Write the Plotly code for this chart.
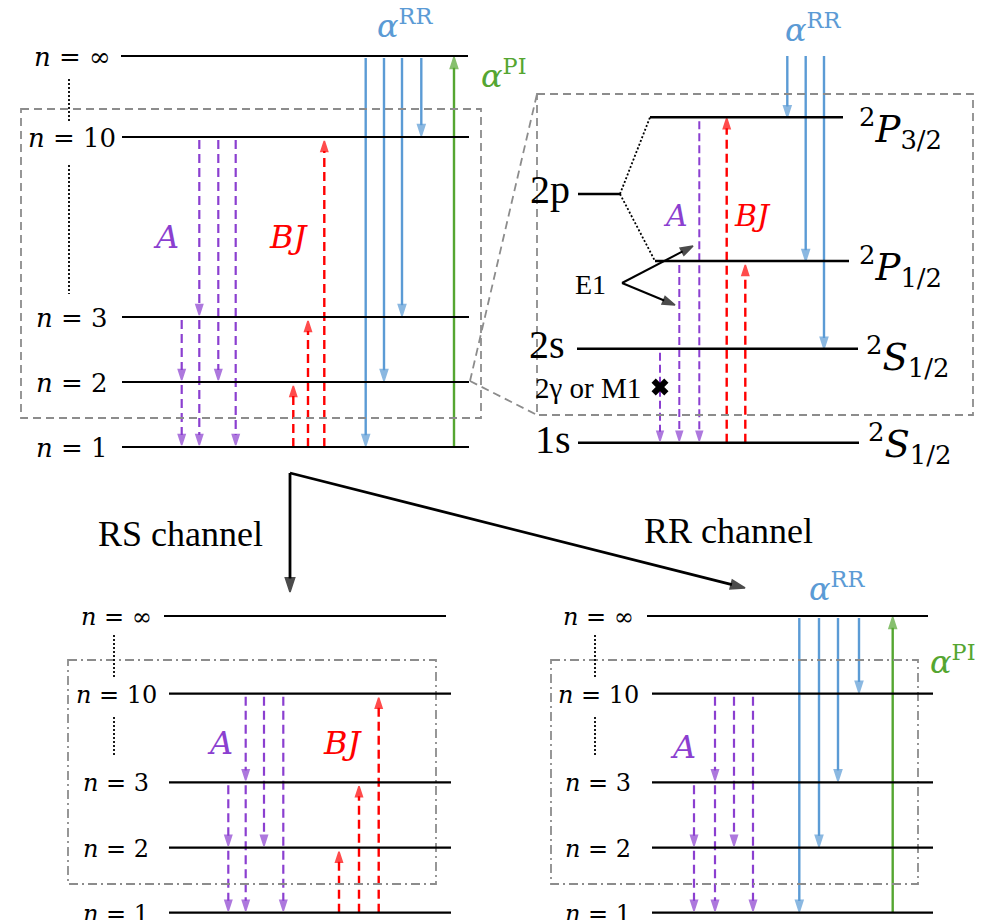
import plotly.graph_objects as go

# ------------------------------------------------------------------
# DATA (levels and transitions of the diagram)
# ------------------------------------------------------------------
N_LEVELS = ["∞", "10", "3", "2", "1"]
A_CASCADES = [["3", "2", "1"], ["10", "3", "1"], ["10", "2"], ["10", "1"]]   # cascades (A)
BJ_EXCITATIONS = [["1", "2"], ["1", "3"], ["1", "10"]]                       # BJ excitation
RR_CAPTURES = [["∞", "1"], ["∞", "2"], ["∞", "3"], ["∞", "10"]]              # radiative recombination
PI_IONIZATIONS = [["1", "∞"]]                                                # photo-ionization

FS_LEVELS = ["top", "P32", "2p", "P12", "2s", "1s"]
FS_LEFT_LABELS = {"2p": "2p", "2s": "2s", "1s": "1s"}
FS_RIGHT_LABELS = {"P32": "<sup>2</sup><i>P</i><sub>3/2</sub>", "P12": "<sup>2</sup><i>P</i><sub>1/2</sub>",
                   "2s": "<sup>2</sup><i>S</i><sub>1/2</sub>", "1s": "<sup>2</sup><i>S</i><sub>1/2</sub>"}
FS_A = [["2s", "1s"], ["P12", "1s"], ["P32", "1s"]]
FS_BJ = [["1s", "P32"], ["1s", "P12"]]
FS_RR = [["top", "P32"], ["top", "P12"], ["top", "2s"]]

CHANNELS = ["RS channel", "RR channel"]

# ------------------------------------------------------------------
# GEOMETRY / STYLE (pixel-like coordinate system of the canvas)
# ------------------------------------------------------------------
W, H = 985, 920
PURPLE, RED, BLUE, GREEN, GRAY = "#8B3FD0", "#FF0000", "#5B9BD5", "#55A631", "#8C8C8C"
MATH = "DejaVu Serif"
TEXT = "Liberation Serif"

TL = dict(y={"∞": 56, "10": 137, "3": 317, "2": 382, "1": 447},
          x0=122, x1=469, inf_shift=-1, label_x=72, label_size=26,
          a_x=[181.7, 199.3, 218.3, 235.7], bj_x=[293.3, 308, 324.3],
          rr_x=[365.7, 384, 402, 421.3], pi_x=[454],
          dots=[(69, 79, 122), (69, 165, 294)], box=(21, 109, 481, 418), box_dash="8px,5px")
BL = dict(y={"∞": 616, "10": 693.7, "3": 782.3, "2": 847.7, "1": 912.7},
          x0=169, x1=451, inf_shift=-5, label_x=116, label_size=24,
          a_x=[228.3, 245.7, 264, 283.3], bj_x=[339, 359, 378.7],
          rr_x=[], pi_x=[],
          dots=[(114, 635, 678), (114, 717, 757)], box=(68, 660, 436, 884), box_dash="9px,4px,2px,4px")
BR = dict(y={"∞": 616, "10": 693.7, "3": 782.3, "2": 847.7, "1": 912.7},
          x0=652, x1=933, inf_shift=-5, label_x=598, label_size=24,
          a_x=[694, 715, 734, 753], bj_x=[],
          rr_x=[799.3, 819, 838, 859], pi_x=[892.7],
          dots=[(595, 635, 678), (595, 717, 757)], box=(551, 660, 918, 884), box_dash="9px,4px,2px,4px")

FS = dict(y={"top": 56, "P32": 117.3, "2p": 194, "P12": 261, "2s": 348.7, "1s": 442.7},
          xs={"P32": (650, 843), "2p": (578, 620), "P12": (655, 849), "2s": (577, 858), "1s": (578, 859)},
          a_x=[660, 679.3, 699.3], bj_x=[726.7, 745.3], rr_x=[787.3, 805.7, 824])

fig = go.Figure()


def hline(x0, x1, y, color="black", width=2.2, dash="solid"):
    fig.add_shape(type="line", x0=x0, x1=x1, y0=y, y1=y, xref="x", yref="y",
                  line=dict(color=color, width=width, dash=dash))


def seg(x0, y0, x1, y1, color="black", width=1.6, dash="solid"):
    fig.add_shape(type="line", x0=x0, x1=x1, y0=y0, y1=y1, xref="x", yref="y",
                  line=dict(color=color, width=width, dash=dash))


def rect(box, dash, color=GRAY, width=1.8):
    x0, y0, x1, y1 = box
    fig.add_shape(type="rect", x0=x0, x1=x1, y0=y0, y1=y1, xref="x", yref="y",
                  line=dict(color=color, width=width, dash=dash), fillcolor="rgba(0,0,0,0)")


def arrow(x0, y0, x1, y1, color, width=2.2, dash="solid", head=11, edge=1.6):
    fig.add_trace(go.Scatter(
        x=[x0, x1], y=[y0, y1], mode="lines+markers",
        line=dict(color=color, width=width, dash=dash),
        marker=dict(symbol="arrow", size=[0, head], angleref="previous", color=color,
                    line=dict(width=edge, color=color)),
        hoverinfo="skip", showlegend=False))


def text(x, y, s, size, color="black", family=TEXT, xanchor="center", yanchor="middle"):
    fig.add_annotation(x=x, y=y, text=s, showarrow=False, xref="x", yref="y",
                       font=dict(size=size, color=color, family=family),
                       xanchor=xanchor, yanchor=yanchor)


def down(xs, ys, yt, color, dash, width=2.2, head=11, start_gap=3, end_gap=2):
    arrow(xs, ys + start_gap, xs, yt - end_gap, color, width, dash, head)


def up(xs, ys, yt, color, dash, width=2.2, head=11, end_gap=4):
    arrow(xs, ys, xs, yt + end_gap, color, width, dash, head)


def n_panel(P):
    rect(P["box"], P["box_dash"])
    for (dx, y0, y1) in P["dots"]:
        seg(dx, y0, dx, y1, "black", 1.8, "2px,2px")
    for lev in N_LEVELS:
        shift = P["inf_shift"] if lev == "∞" else 0
        hline(P["x0"] + shift, P["x1"] + shift, P["y"][lev])
        text(P["label_x"], P["y"][lev] + 1, "<i>n</i> = " + lev, P["label_size"], family=MATH)
    for x, col in zip(P["a_x"], A_CASCADES):
        for s, t in zip(col[:-1], col[1:]):
            down(x, P["y"][s], P["y"][t], PURPLE, "9px,5px", 2.2, 11)
    for x, (s, t) in zip(P["bj_x"], BJ_EXCITATIONS):
        up(x, P["y"][s], P["y"][t], RED, "9px,5px", 2.4, 11, 4)
    for x, (s, t) in zip(P["rr_x"], RR_CAPTURES):
        down(x, P["y"][s], P["y"][t], BLUE, "solid", 2.4, 12, 2, 1)
    for x, (s, t) in zip(P["pi_x"], PI_IONIZATIONS):
        up(x, P["y"][s], P["y"][t], GREEN, "solid", 2.4, 12, 1)


n_panel(TL)
n_panel(BL)
n_panel(BR)

# panel text labels
text(166, 237, "<i>A</i>", 32, PURPLE, MATH)
text(289, 237, "<i>BJ</i>", 32, RED, MATH)
text(405, 24, "<i>α</i><sup>RR</sup>", 32, BLUE, MATH)
text(504, 74, "<i>α</i><sup>PI</sup>", 32, GREEN, MATH)

text(220, 743, "<i>A</i>", 32, PURPLE, MATH)
text(343, 743, "<i>BJ</i>", 32, RED, MATH)

text(683, 747, "<i>A</i>", 32, PURPLE, MATH)
text(837, 587, "<i>α</i><sup>RR</sup>", 32, BLUE, MATH)
text(953, 660, "<i>α</i><sup>PI</sup>", 32, GREEN, MATH)

# ------------------------------------------------------------------
# fine-structure zoom panel (top right)
# ------------------------------------------------------------------
rect((537, 94, 973, 415), "8px,5px")
seg(470, 381, 537, 94, GRAY, 1.8, "8px,5px")
seg(470, 381, 537, 415, GRAY, 1.8, "8px,5px")

for lev in FS_LEVELS[1:]:
    x0, x1 = FS["xs"][lev]
    hline(x0, x1, FS["y"][lev], width=2.6)
seg(620, FS["y"]["2p"], 650, FS["y"]["P32"], "black", 1.8, "2px,2px")
seg(620, FS["y"]["2p"], 655, FS["y"]["P12"], "black", 1.8, "2px,2px")

left_pos = {"2p": (550, 189), "2s": (547, 344), "1s": (553, 439)}
for lev, lab in FS_LEFT_LABELS.items():
    text(left_pos[lev][0], left_pos[lev][1], lab, 40)
right_pos = {"P32": (900, 128), "P12": (900, 266), "2s": (908, 356), "1s": (910, 443)}
for lev, lab in FS_RIGHT_LABELS.items():
    text(right_pos[lev][0], right_pos[lev][1], lab, 37, family=MATH)

for x, (s, t) in zip(FS["a_x"], FS_A):
    down(x, FS["y"][s], FS["y"][t], PURPLE, "8px,4px", 2.0, 10, 4, 2)
for x, (s, t) in zip(FS["bj_x"], FS_BJ):
    up(x, FS["y"][s], FS["y"][t], RED, "9px,5px", 2.4, 11, 1 if t == "P32" else 4)
for x, (s, t) in zip(FS["rr_x"], FS_RR):
    down(x, FS["y"][s], FS["y"][t], BLUE, "solid", 2.4, 12, 0, 0)

text(675, 215, "<i>A</i>", 30, PURPLE, MATH)
text(752, 215, "<i>BJ</i>", 30, RED, MATH)
text(813, 28, "<i>α</i><sup>RR</sup>", 32, BLUE, MATH)

# E1 arrows and label
text(590, 284, "E1", 28)
arrow(622, 283, 693, 246, "black", 2.0, "solid", 13)
arrow(622, 283, 675, 305, "black", 2.0, "solid", 13)

# forbidden 2s -> 1s
text(588, 388, "2γ or M1", 29)
fig.add_trace(go.Scatter(x=[660], y=[387], mode="markers",
                         marker=dict(symbol="x", size=15, color="black"),
                         hoverinfo="skip", showlegend=False))

# ------------------------------------------------------------------
# channel arrows
# ------------------------------------------------------------------
arrow(290, 473, 290, 592, "black", 2.8, "solid", 15)
arrow(290, 473, 745, 588, "black", 2.8, "solid", 15)
text(180, 534, CHANNELS[0], 36)
text(728, 531, CHANNELS[1], 36)

# ------------------------------------------------------------------
fig.update_xaxes(range=[0, W], visible=False, fixedrange=True)
fig.update_yaxes(range=[H, 0], visible=False, fixedrange=True)
fig.update_layout(width=W, height=H, margin=dict(l=0, r=0, t=0, b=0), autosize=False,
                  paper_bgcolor="white", plot_bgcolor="white", showlegend=False)

fig.write_html("out.html", config={"displayModeBar": False},
               post_script="document.body.style.margin='0px';document.body.style.overflow='hidden';")
